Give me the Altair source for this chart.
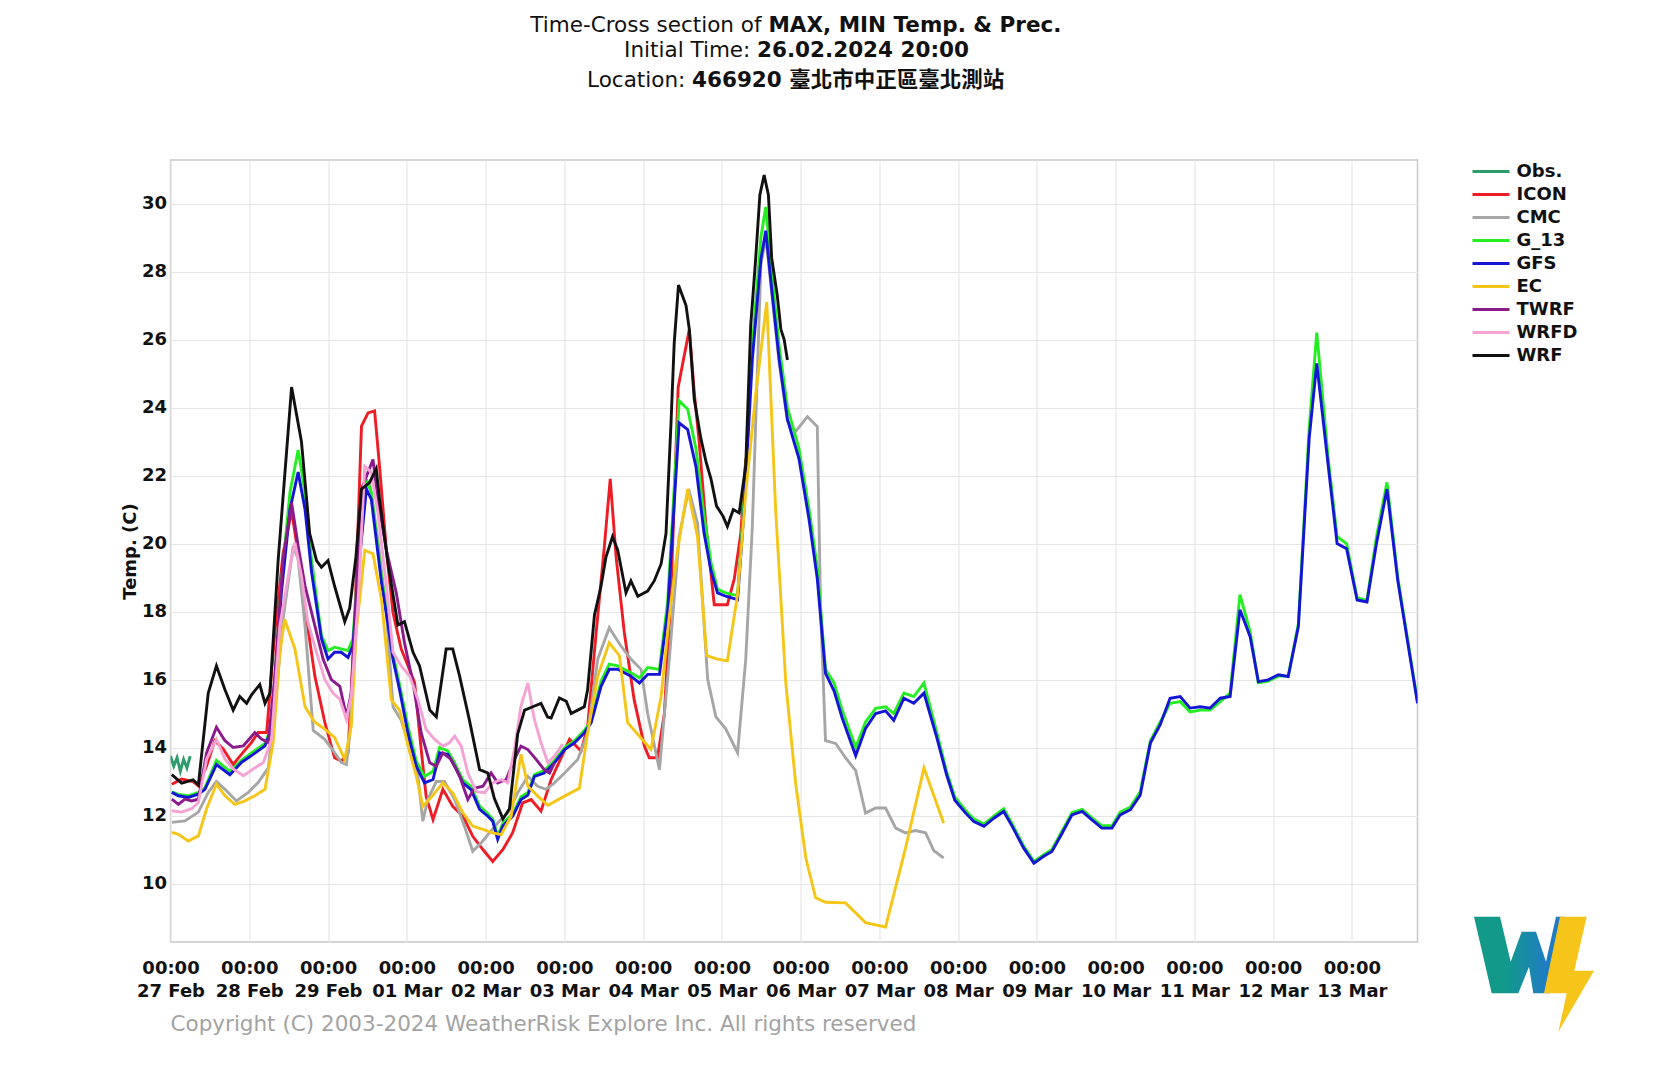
import altair as alt
import pandas as pd

# ---------------- data (hours since 27 Feb 00:00, temperature in C) ----------------
SERIES = ["Obs.", "ICON", "CMC", "G_13", "GFS", "EC", "TWRF", "WRFD", "WRF"]
COLORS = ["#2e9c6a", "#ee1c25", "#a6a6a6", "#22ee22", "#1515d6", "#f5c518", "#8b1a8b", "#f5a3d5", "#111111"]

OBS_H = [0, 1, 2, 3, 4, 5, 6]
OBS_T = [13.75, 13.45, 13.7, 13.3, 13.65, 13.4, 13.75]

ICON_H = [0.4, 3.4, 6.9, 8.5, 11.0, 13.5, 16.1, 19.1, 21.6, 24.7, 26.7, 29.3, 31.8, 34.3, 36.9, 38.9,
          41.0, 44.0, 47.0, 50.0, 52.1, 54.1, 56.1, 58.2, 60.2, 62.2, 63.7, 65.8, 67.8, 70.3, 72.4,
          74.4, 76.4, 77.9, 80.0, 83.0, 86.0, 89.1, 92.1, 95.2, 98.2, 101.3, 104.3, 107.3, 109.9,
          112.9, 116.0, 121.6, 125.1, 127.1, 129.7, 132.2, 134.0, 135.8, 138.3, 141.3, 144.4, 145.9,
          148.4, 150.5, 152.5, 154.7, 156.7, 158.1, 159.6, 161.1, 163.2, 165.7, 169.7, 171.8, 173.8, 175.3]
ICON_T = [12.92, 13.07, 13.0, 12.87, 13.46, 14.2, 13.95, 13.5, 13.8, 14.15, 14.44, 14.44, 17.4, 19.7,
          20.96, 19.7, 18.1, 16.1, 14.75, 13.7, 13.6, 13.85, 17.6, 23.45, 23.84, 23.9, 22.27, 19.8,
          17.96, 16.9, 16.4, 15.9, 13.94, 12.57, 11.88, 12.77, 12.27, 11.98, 11.39, 11.0, 10.65, 11.0,
          11.5, 12.37, 12.47, 12.13, 13.06, 14.24, 13.9, 14.6, 17.37, 19.9, 21.9, 19.6, 17.37, 15.4,
          14.04, 13.7, 13.7, 15.0, 18.5, 24.6, 25.6, 26.3, 24.45, 22.98, 20.5, 18.2, 18.2, 18.96, 20.3, 22.5]

CMC_H = [0.4, 4.4, 8.5, 11.5, 14.0, 16.6, 20.1, 23.7, 26.7, 29.8, 31.8, 34.3, 37.4, 38.9, 41.0, 43.5,
         47.0, 50.0, 52.1, 53.6, 54.6, 56.6, 58.2, 60.7, 63.2, 65.8, 67.8, 70.3, 72.9, 75.4, 76.9,
         78.4, 81.0, 83.5, 86.6, 89.6, 92.1, 94.7, 97.2, 99.7, 102.8, 105.8, 108.9, 111.9, 114.4,
         117.0, 120.1, 124.1, 127.1, 130.2, 133.7, 137.3, 140.3, 143.4, 145.4, 149.0, 152.0, 155.0,
         157.9, 160.6, 163.7, 166.2, 169.2, 172.8, 175.3, 177.3, 179.9, 181.4, 183.4, 185.5, 188.0,
         190.5, 194.1, 197.1, 198.1, 199.6, 202.7, 205.7, 208.8, 211.8, 214.9, 217.9, 221.0, 224.0,
         227.0, 230.1, 232.6, 235.6]
CMC_T = [11.8, 11.84, 12.1, 12.68, 13.0, 12.77, 12.43, 12.68, 12.97, 13.4, 15.1, 17.77, 19.93, 19.54,
         17.57, 14.5, 14.24, 13.85, 13.56, 13.5, 14.34, 17.57, 21.3, 21.8, 20.1, 17.96, 15.2, 14.8,
         14.04, 13.16, 11.83, 12.47, 13.0, 13.0, 12.47, 11.68, 10.95, 11.2, 11.49, 11.78, 12.08, 12.67,
         13.15, 12.86, 12.77, 12.96, 13.25, 13.65, 14.43, 16.6, 17.52, 16.98, 16.6, 16.3, 15.0, 13.35,
         16.6, 20.2, 21.6, 20.6, 16.0, 14.9, 14.55, 13.85, 16.6, 20.5, 28.2, 29.0, 27.2, 25.3, 23.6,
         23.3, 23.73, 23.44, 18.1, 14.2, 14.12, 13.7, 13.32, 12.07, 12.22, 12.22, 11.63, 11.49, 11.56,
         11.49, 10.97, 10.75]

GFS_H = [0.4, 2.4, 5.4, 8.5, 10.5, 14.0, 18.1, 21.6, 25.2, 28.8, 30.8, 33.8, 36.4, 38.9, 41.0, 43.0,
         46.0, 48.0, 50.0, 52.0, 54.1, 55.6, 57.1, 59.7, 61.2, 64.3, 66.3, 67.8, 69.8, 72.4, 74.9,
         77.4, 80.0, 82.0, 84.5, 86.6, 89.1, 91.6, 94.2, 96.7, 98.2, 99.7, 101.3, 104.3, 106.8, 108.9,
         110.9, 113.9, 117.0, 120.1, 123.1, 126.1, 128.2, 131.2, 133.7, 136.3, 140.3, 142.9, 145.4,
         149.0, 151.5, 153.0, 155.0, 157.6, 160.1, 162.6, 164.7, 166.7, 169.2, 172.8, 174.8, 177.3,
         179.9, 181.4, 183.4, 185.5, 188.0, 191.5, 194.6, 197.1, 199.6, 202.2, 204.7, 208.8, 211.8,
         214.9, 217.9, 220.4, 223.5, 226.5, 229.6, 233.5, 236.5, 239.0, 242.3, 244.8, 247.9, 250.9,
         253.9, 256.5, 260.0, 263.1, 266.1, 268.6, 271.7, 274.7, 277.8, 280.8, 283.8, 286.9, 289.4,
         292.5, 295.5, 298.6, 301.6, 304.6, 307.7, 310.7, 313.8, 316.8, 319.9, 322.9, 325.9, 329.0,
         331.5, 334.5, 337.6, 340.6, 343.7, 347.0, 349.3, 352.9, 355.5, 358.4, 361.6, 364.6, 367.5,
         370.7, 374.0, 380.0]
GFS_T = [12.68, 12.58, 12.53, 12.63, 12.77, 13.5, 13.2, 13.56, 13.8, 14.05, 14.54, 18.56, 21.0, 22.1,
         21.0, 19.15, 17.2, 16.6, 16.8, 16.8, 16.65, 17.0, 19.05, 21.6, 21.3, 18.85, 17.6, 16.6, 15.7,
         14.4, 13.45, 12.96, 13.06, 13.84, 13.8, 13.45, 12.96, 12.76, 12.18, 11.98, 11.83, 11.3, 11.7,
         11.98, 12.47, 12.6, 13.15, 13.25, 13.55, 13.94, 14.14, 14.43, 14.73, 15.8, 16.3, 16.3, 16.1,
         15.9, 16.15, 16.15, 18.0, 20.4, 23.55, 23.35, 22.27, 20.3, 19.2, 18.55, 18.45, 18.35, 21.0,
         25.4, 28.35, 29.2, 27.3, 25.4, 23.65, 22.5, 20.7, 18.96, 16.18, 15.67, 14.86, 13.76, 14.56,
         15.0, 15.08, 14.8, 15.45, 15.3, 15.6, 14.3, 13.2, 12.45, 12.07, 11.82, 11.68, 11.92, 12.12,
         11.68, 11.04, 10.6, 10.8, 10.94, 11.48, 12.02, 12.12, 11.87, 11.63, 11.63, 12.02, 12.17, 12.6,
         14.13, 14.67, 15.45, 15.5, 15.16, 15.2, 15.16, 15.45, 15.5, 18.05, 17.26, 15.94, 15.99, 16.14,
         16.09, 17.56, 23.1, 25.3, 22.2, 20.0, 19.85, 18.34, 18.28, 20.0, 21.6, 18.9, 15.3]

G13_H = GFS_H
G13_T = [12.7, 12.62, 12.58, 12.68, 12.82, 13.62, 13.3, 13.62, 13.88, 14.12, 14.62, 18.9, 21.5, 22.75,
         21.5, 19.5, 17.3, 16.85, 16.95, 16.9, 16.85, 17.2, 19.3, 21.9, 21.5, 19.0, 17.75, 16.75, 15.85,
         14.6, 13.6, 13.15, 13.3, 14.0, 13.9, 13.55, 13.05, 12.85, 12.28, 12.05, 11.9, 11.4, 11.78,
         12.05, 12.55, 12.68, 13.2, 13.32, 13.62, 14.0, 14.2, 14.5, 14.8, 15.95, 16.45, 16.4, 16.2,
         16.05, 16.35, 16.3, 18.3, 20.8, 24.2, 23.95, 22.8, 20.8, 19.45, 18.65, 18.55, 18.47, 21.3,
         25.8, 29.0, 29.9, 27.8, 25.8, 24.0, 22.8, 21.0, 19.3, 16.3, 15.9, 15.1, 14.0, 14.75,
         15.15, 15.2, 15.0, 15.6, 15.5, 15.9, 14.45, 13.3, 12.55, 12.15, 11.9, 11.75, 11.98, 12.2,
         11.75, 11.1, 10.65, 10.85, 11.0, 11.55, 12.08, 12.18, 11.93, 11.7, 11.7, 12.1, 12.25, 12.7,
         14.2, 14.75, 15.3, 15.35, 15.05, 15.1, 15.1, 15.35, 15.6, 18.5, 17.4, 15.9, 15.95, 16.1,
         16.1, 17.65, 23.4, 26.2, 22.4, 20.2, 20.0, 18.4, 18.33, 20.2, 21.8, 19.0, 15.35]

EC_H = [0.4, 2.4, 5.4, 8.5, 11.0, 14.0, 16.6, 19.6, 22.7, 25.7, 28.8, 31.3, 33.3, 34.8, 37.9, 41.0,
        43.9, 47.0, 50.0, 53.1, 55.1, 56.6, 59.2, 61.7, 64.3, 67.3, 69.8, 72.4, 74.9, 76.9, 80.0, 83.0,
        86.0, 89.1, 92.1, 95.2, 98.2, 100.8, 103.8, 106.8, 108.9, 111.9, 115.0, 120.1, 124.6, 127.1,
        130.2, 133.7, 136.8, 139.3, 142.9, 146.4, 149.5, 152.0, 154.5, 157.6, 160.6, 163.4, 166.7,
        169.7, 172.8, 175.3, 178.4, 181.7, 184.4, 187.5, 190.5, 193.6, 196.6, 199.6, 205.7, 211.8,
        217.9, 224.0, 229.6, 235.6]
EC_T = [11.5, 11.45, 11.25, 11.4, 12.2, 12.92, 12.58, 12.33, 12.43, 12.58, 12.77, 14.15, 16.8, 17.77,
        16.9, 15.2, 14.75, 14.54, 14.3, 13.65, 14.64, 17.4, 19.8, 19.7, 18.35, 15.4, 15.1, 14.04, 13.16,
        12.27, 12.6, 12.96, 12.67, 12.08, 11.69, 11.59, 11.49, 11.44, 11.98, 13.8, 12.86, 12.57, 12.3,
        12.57, 12.8, 14.43, 16.1, 17.08, 16.7, 14.73, 14.33, 13.94, 15.5, 17.86, 19.8, 21.6, 20.2,
        16.7, 16.6, 16.55, 18.5, 21.5, 24.45, 27.1, 21.0, 15.9, 12.95, 10.75, 9.58, 9.45, 9.43, 8.85,
        8.72, 11.05, 13.4, 11.78]

TWRF_H = [0.4, 2.4, 4.4, 6.4, 8.5, 11.0, 14.0, 16.6, 19.1, 22.2, 25.7, 27.7, 29.8, 31.8, 34.3, 36.9,
          38.9, 41.0, 44.0, 46.5, 49.0, 51.6, 53.6, 55.1, 58.2, 61.7, 63.2, 65.8, 68.8, 71.3, 73.9,
          76.4, 79.0, 81.0, 83.0, 85.5, 88.1, 90.6, 92.6, 95.2, 97.7, 99.7, 102.3, 104.8, 106.8, 108.9,
          111.4, 113.9, 115.5, 117.0]
TWRF_T = [12.48, 12.33, 12.48, 12.43, 12.48, 13.85, 14.6, 14.2, 14.0, 14.05, 14.44, 14.25, 14.15, 16.1,
          19.54, 21.2, 19.93, 18.75, 17.58, 16.6, 16.0, 15.8, 14.92, 15.6, 21.6, 22.47, 21.3, 19.8,
          18.55, 17.08, 15.9, 14.43, 13.55, 13.45, 13.84, 13.65, 13.16, 12.47, 12.8, 12.86, 13.25,
          12.96, 13.06, 13.65, 14.04, 13.94, 13.65, 13.35, 13.25, 13.55]

WRFD_H = [0.4, 3.4, 6.4, 8.5, 11.0, 14.0, 16.6, 19.1, 22.2, 25.2, 28.3, 30.8, 33.3, 36.4, 37.9, 39.9,
          41.9, 44.5, 47.0, 49.5, 51.6, 53.6, 55.1, 57.2, 59.2, 61.2, 63.2, 65.8, 67.8, 70.3, 72.9,
          75.4, 77.9, 80.5, 83.0, 85.0, 86.6, 88.6, 90.6, 93.2, 95.7, 98.2, 100.8, 102.8, 104.8, 106.8,
          108.9, 110.9, 112.9, 115.0, 117.0, 119.5]
WRFD_T = [12.14, 12.1, 12.2, 12.38, 13.66, 14.24, 13.66, 13.37, 13.17, 13.37, 13.56, 14.24, 17.57, 19.34,
          20.03, 19.05, 17.68, 16.8, 16.0, 15.6, 15.42, 14.83, 15.52, 18.35, 22.27, 22.1, 20.9, 18.75,
          16.8, 16.4, 16.1, 15.41, 14.53, 14.24, 14.04, 14.14, 14.33, 14.04, 13.25, 12.7, 12.67, 12.96,
          13.06, 12.96, 13.94, 15.22, 15.9, 14.82, 14.14, 13.55, 13.75, 14.1]

WRF_H = [0.4, 3.4, 6.9, 8.5, 11.5, 14.0, 16.6, 19.1, 21.1, 23.2, 24.7, 27.2, 28.8, 30.3, 32.8, 36.9,
         39.9, 42.4, 44.5, 46.0, 48.0, 50.0, 53.1, 54.6, 56.5, 58.2, 60.7, 62.7, 63.7, 66.3, 69.3,
         71.3, 73.9, 75.9, 79.0, 81.0, 84.0, 86.0, 88.1, 91.1, 94.2, 96.7, 98.7, 101.3, 103.3, 105.8,
         107.9, 110.4, 112.9, 114.9, 116.0, 118.5, 120.6, 122.1, 124.1, 126.1, 127.1, 129.2, 131.2,
         132.7, 134.7, 136.3, 138.8, 140.3, 142.4, 145.4, 147.4, 149.5, 151.0, 152.5, 153.5, 154.8,
         157.1, 158.1, 159.6, 161.6, 163.2, 164.7, 166.4, 168.4, 169.7, 171.5, 173.3, 175.3, 176.8,
         178.3, 179.6, 180.9, 182.2, 183.2, 184.9, 186.0, 187.0, 188.0]
WRF_T = [13.2, 12.95, 13.05, 12.9, 15.6, 16.4, 15.7, 15.1, 15.5, 15.3, 15.55, 15.85, 15.3, 15.6, 19.5,
         24.6, 23.0, 20.3, 19.5, 19.3, 19.5, 18.75, 17.7, 18.1, 19.6, 21.6, 21.8, 22.2, 21.3, 19.4,
         17.6, 17.7, 16.8, 16.4, 15.1, 14.9, 16.9, 16.9, 16.1, 14.8, 13.35, 13.25, 12.5, 11.9, 12.2,
         14.4, 15.1, 15.2, 15.3, 14.9, 14.87, 15.46, 15.36, 15.0, 15.1, 15.2, 15.7, 17.9, 18.75, 19.6,
         20.2, 19.8, 18.55, 18.9, 18.45, 18.6, 18.9, 19.4, 20.3, 23.5, 25.9, 27.6, 27.0, 26.3, 24.25,
         23.1, 22.4, 21.9, 21.1, 20.8, 20.5, 21.0, 20.9, 22.3, 26.4, 28.35, 30.25, 30.84, 30.25, 28.4,
         27.3, 26.3, 26.0, 25.4]

DAY_HOURS = [24 * i for i in range(16)]
DAY_LABELS = ["27 Feb", "28 Feb", "29 Feb", "01 Mar", "02 Mar", "03 Mar", "04 Mar", "05 Mar",
              "06 Mar", "07 Mar", "08 Mar", "09 Mar", "10 Mar", "11 Mar", "12 Mar", "13 Mar"]
Y_TICKS = [10, 12, 14, 16, 18, 20, 22, 24, 26, 28, 30]

SOURCES = {
    "Obs.": (OBS_H, OBS_T), "ICON": (ICON_H, ICON_T), "CMC": (CMC_H, CMC_T),
    "G_13": (G13_H, G13_T), "GFS": (GFS_H, GFS_T), "EC": (EC_H, EC_T),
    "TWRF": (TWRF_H, TWRF_T), "WRFD": (WRFD_H, WRFD_T), "WRF": (WRF_H, WRF_T),
}

rows = []
for name in SERIES:
    hs, ts = SOURCES[name]
    for h, t in zip(hs, ts):
        rows.append({"series": name, "hour": h, "temp": t})
df = pd.DataFrame(rows)

FONT = "DejaVu Sans"
CJK = "DejaVu Sans, Noto Sans CJK TC"

# ---------------- layout (pixels, plot-area relative) ----------------
W, H = 1247, 782
PAD = {"left": 162.5, "top": 152, "right": 237.5, "bottom": 118}

label_list = "[" + ",".join("'%s'" % d for d in DAY_LABELS) + "]"
x_label_expr = "['00:00', " + label_list + "[round(datum.value/24)]]"

lines = alt.Chart(df).mark_line(strokeWidth=2.9, clip=True).encode(
    x=alt.X("hour:Q",
            scale=alt.Scale(domain=[0, 380], nice=False, zero=False),
            axis=alt.Axis(values=DAY_HOURS, labelExpr=x_label_expr, title=None, grid=True,
                          ticks=False, domain=False, labelFont=FONT, labelFontSize=18,
                          labelFontWeight="bold", labelColor="#111111", labelPadding=17,
                          labelLineHeight=23, labelAlign="center", labelOverlap=False,
                          labelFlush=False, gridColor="#e6e6e6", gridWidth=1.2)),
    y=alt.Y("temp:Q",
            scale=alt.Scale(domain=[8.28, 31.28], nice=False, zero=False),
            axis=alt.Axis(values=Y_TICKS, title="Temp. (C)", grid=True, ticks=False, domain=False,
                          labelFont=FONT, labelFontSize=18, labelFontWeight="bold",
                          labelColor="#111111", labelPadding=4, gridColor="#e6e6e6", gridWidth=1.2,
                          titleFont=FONT, titleFontSize=18, titleFontWeight="bold",
                          titleColor="#111111", titleX=-40.5, titleY=391, titleAngle=270,
                          titleAlign="center", titleBaseline="middle")),
    color=alt.Color("series:N",
                    scale=alt.Scale(domain=SERIES, range=COLORS),
                    legend=alt.Legend(orient="none", legendX=1293, legendY=2.5, title=None,
                                      symbolType="M0,0H37", symbolSize=4, symbolStrokeWidth=3,
                                      labelOffset=35, labelFont=FONT, labelFontSize=18,
                                      labelFontWeight="bold", labelColor="#111111", rowPadding=5,
                                      padding=0, labelLimit=300)),
)


def text_layer(s, x, y, align="left", weight="normal", size=21.5, color="#111111", font=FONT):
    return alt.Chart(alt.Data(values=[{"k": 0}])).mark_text(
        text=s, align=align, baseline="middle", font=font, fontSize=size,
        fontWeight=weight, color=color
    ).encode(x=alt.value(x), y=alt.value(y))


titles = [
    text_layer("Time-Cross section of", 591.0, -134.5, align="right"),
    text_layer("MAX, MIN Temp. & Prec.", 597.9, -134.5, weight="bold"),
    text_layer("Initial Time:", 579.8, -109.0, align="right"),
    text_layer("26.02.2024 20:00", 586.5, -109.0, weight="bold"),
    text_layer("Location:", 514.8, -79.0, align="right"),
    text_layer("466920 臺北市中正區臺北測站", 521.5, -79.0, weight="bold", font=CJK),
    text_layer("Copyright (C) 2003-2024 WeatherRisk Explore Inc. All rights reserved",
               0, 865, size=21.5, color="#a3a3a3"),
]

W_PATH = ("M24,16.7 L50,16.7 L60.7,61.7 L71.7,31.7 L86,31.7 L96,61.7 L106,16.7 L115,16.7 "
          "L100,93.3 L83.3,93.3 L79,66.7 L68.3,93.3 L41.7,93.3 Z")
BOLT_PATH = "M110,16.7 L136.7,16.7 L124.3,70.7 L144,70.7 L108.3,132 L116.7,93.3 L94,93.3 Z"

logo_w = alt.Chart(alt.Data(values=[{"k": 0}])).mark_point(
    shape=W_PATH, size=4, filled=True, opacity=1, strokeWidth=0,
    fill=alt.Gradient(gradient="linear", x1=0, x2=1, y1=0, y2=0,
                      stops=[alt.GradientStop(color="#12998a", offset=0.35),
                             alt.GradientStop(color="#1f7cc4", offset=0.8)])
).encode(x=alt.value(1279.5), y=alt.value(740))

logo_bolt = alt.Chart(alt.Data(values=[{"k": 0}])).mark_point(
    shape=BOLT_PATH, size=4, filled=True, opacity=1, strokeWidth=0, fill="#f7c51a"
).encode(x=alt.value(1279.5), y=alt.value(740))

chart = alt.layer(lines, *titles, logo_w, logo_bolt).properties(
    width=W, height=H,
    autosize=alt.AutoSizeParams(type="none"),
    padding=PAD,
    background="white",
).configure_view(stroke="#c8c8c8", strokeWidth=1.5)

chart.save("out.html", embed_options={"renderer": "svg", "actions": False})
